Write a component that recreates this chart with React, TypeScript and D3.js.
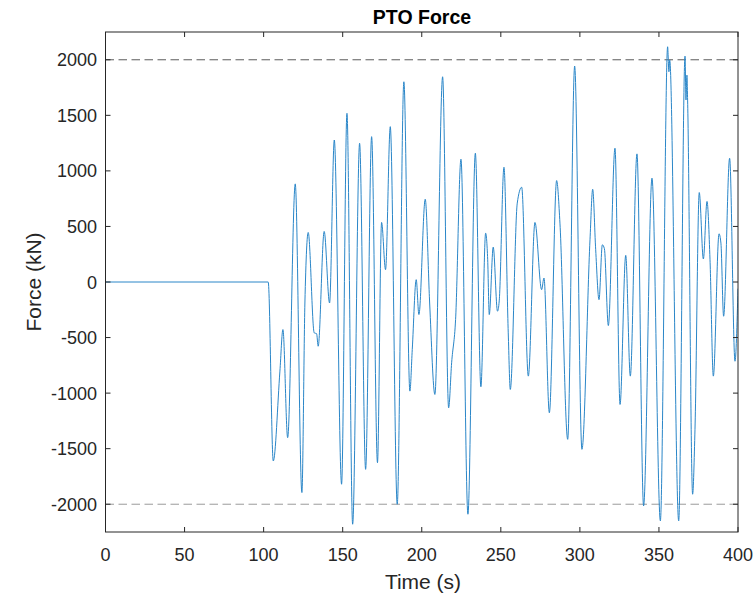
import React from "react";
import * as d3 from "d3";

const times = [0, 102.9, 106.1, 110.3, 112.2, 115.2, 120, 124.2, 126.1, 128.2, 132, 133.5, 134.5, 138.3, 141.7, 144.7, 149.3, 152.7, 156.3, 160.7, 164.5, 168.3, 172, 174.6, 177.1, 180.1, 184.5, 188.7, 192.5, 194, 196.5, 198.2, 202.2, 205, 208.3, 213.2, 217, 218.9, 221.4, 224.8, 229.2, 233.9, 237.4, 240.4, 241.7, 242.7, 245.2, 247.9, 249, 252, 254.7, 256, 260.4, 263.2, 267.4, 271.6, 275.8, 277.3, 280.7, 285.3, 287.4, 292.3, 296.7, 301.3, 306.4, 308.1, 310, 312.1, 314.2, 315.5, 318, 322.2, 325.4, 329, 331.9, 336.1, 340.3, 345.6, 350.9, 355.5, 356.3, 356.8, 362.5, 366.5, 367.1, 367.7, 368.1, 371.3, 372.8, 375.5, 378.1, 380.4, 382.3, 384.4, 388, 389.2, 390.9, 394.7, 398.1, 400];
const forces = [0, 0, -1611, -802, -428, -1401, 883, -1895, -189, 446, -458, -465, -578, 455, -189, 1278, -1820, 1518, -2180, 1248, -1686, 1308, -1626, 536, 111, 1398, -2000, 1802, -982, -608, 21, -293, 745, -189, -1012, 1847, -1132, -727, -338, 1105, -2090, 1159, -943, 440, 200, -293, 314, -263, -170, 1033, -458, -967, 710, 853, -847, 536, -69, 36, -1177, 913, 530, -1416, 1943, -1506, 380, 835, 290, -159, 335, 300, -392, 1204, -1102, 240, -847, 1153, -2015, 934, -2150, 2117, 1892, 1997, -2150, 2033, 1638, 1862, 1660, -1910, -1326, 805, 207, 725, 200, -847, 434, 350, -308, 1114, -713, -60];

const xTicks = [0, 50, 100, 150, 200, 250, 300, 350, 400];
const yTicks = [-2000, -1500, -1000, -500, 0, 500, 1000, 1500, 2000];
const limits = [-2000, 2000];

const W = 756, H = 598;
const L = 105.5, R = 738, T = 32, B = 532;
const FONT = "'Liberation Sans', Arial, Helvetica, sans-serif";

export default function App() {
  const x = d3.scaleLinear().domain([0, 400]).range([L, R]);
  const y = d3.scaleLinear().domain([-2250, 2250]).range([B, T]);
  const pts: [number, number][] = times.map((t, i) => [t, forces[i]]);
  const line = d3.line<[number, number]>().x(d => x(d[0])).y(d => y(d[1])).curve(d3.curveMonotoneX);
  const tl = 5;
  const axisColor = "#262626";
  return (
    <svg width={W} height={H} style={{ position: "absolute", left: 0, top: 0, background: "#fff" }}>
      <rect x={0} y={0} width={W} height={H} fill="#fff" />
      <defs>
        <clipPath id="plot"><rect x={L} y={T} width={R - L} height={B - T} /></clipPath>
      </defs>
      {limits.map((v, i) => (
        <line key={v} x1={L} x2={R} y1={y(v)} y2={y(v)} stroke={i === 0 ? "#9a9a9a" : "#5a5a5a"} strokeWidth={1} strokeDasharray="8.5,4.5" />
      ))}
      <path d={line(pts) || ""} fill="none" stroke="#2a86c8" strokeWidth={1} clipPath="url(#plot)" />
      <rect x={L} y={T} width={R - L} height={B - T} fill="none" stroke={axisColor} strokeWidth={1} />
      {xTicks.map(t => (
        <g key={"x" + t}>
          <line x1={x(t)} x2={x(t)} y1={B} y2={B - tl} stroke={axisColor} />
          <line x1={x(t)} x2={x(t)} y1={T} y2={T + tl} stroke={axisColor} />
          <text x={x(t)} y={561} textAnchor="middle" fontFamily={FONT} fontSize={18} fill="#262626">{t}</text>
        </g>
      ))}
      {yTicks.map(t => (
        <g key={"y" + t}>
          <line x1={L} x2={L + tl} y1={y(t)} y2={y(t)} stroke={axisColor} />
          <line x1={R} x2={R - tl} y1={y(t)} y2={y(t)} stroke={axisColor} />
          <text x={97} y={y(t) + 6.5} textAnchor="end" fontFamily={FONT} fontSize={18} fill="#262626">{t}</text>
        </g>
      ))}
      <text x={422} y={24} textAnchor="middle" fontFamily={FONT} fontSize={19.5} fontWeight="bold" fill="#000">PTO Force</text>
      <text x={423} y={589} textAnchor="middle" fontFamily={FONT} fontSize={21} fill="#262626">Time (s)</text>
      <text transform={`translate(41, ${(T + B) / 2}) rotate(-90)`} textAnchor="middle" fontFamily={FONT} fontSize={21} fill="#262626">Force (kN)</text>
    </svg>
  );
}
